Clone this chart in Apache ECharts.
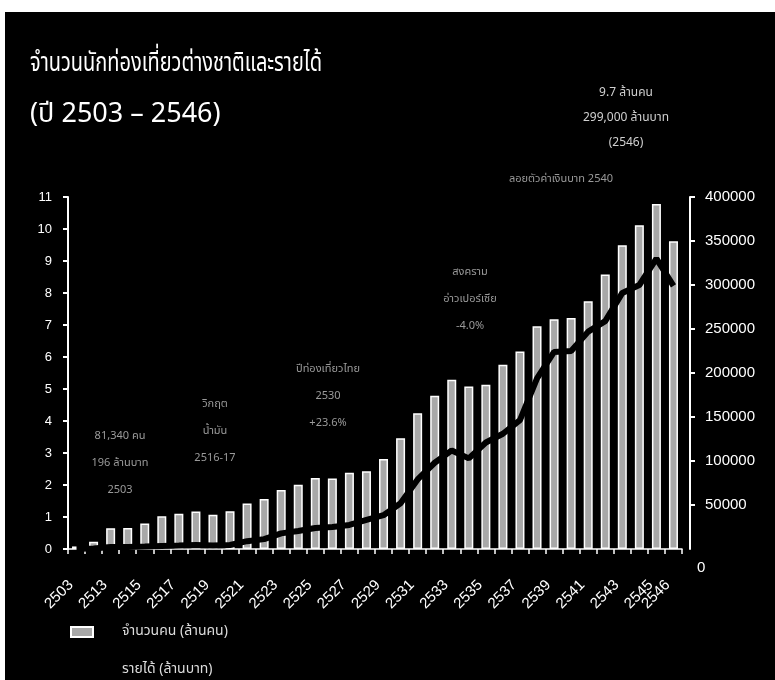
<!DOCTYPE html>
<html>
<head>
<meta charset="utf-8">
<script src="https://cdn.jsdelivr.net/npm/echarts@6/dist/echarts.min.js"></script>
<style>
html,body{margin:0;padding:0;background:#fff;width:775px;height:680px;overflow:hidden;}
#c{position:absolute;left:5px;top:12px;width:770px;height:668px;background:#000;}
</style>
</head>
<body>
<div id="c"></div>
<script>
// Categories (Buddhist Era years)
const years = ['2503','2508','2513','2514','2515','2516','2517','2518','2519','2520','2521','2522','2523','2524','2525','2526','2527','2528','2529','2530','2531','2532','2533','2534','2535','2536','2537','2538','2539','2540','2541','2542','2543','2544','2545','2546'];
// Tourists (million persons)
const tourists = [0.08,0.23,0.65,0.66,0.80,1.02,1.10,1.17,1.07,1.18,1.42,1.56,1.84,2.01,2.22,2.20,2.38,2.43,2.81,3.46,4.24,4.79,5.29,5.08,5.13,5.76,6.17,6.96,7.18,7.22,7.74,8.58,9.49,10.12,10.78,9.62];
// Revenue (million baht)
const revenue = [196,506,2175,2214,2718,3457,3852,4538,3990,4607,8894,11232,17765,20500,23879,25050,27317,33000,38400,52000,79000,98000,112000,103000,121000,131000,146500,194000,224000,225000,247000,259000,291000,300000,330000,299000];
// Axis ticks
const leftMax = 11, leftStep = 1;
const rightMax = 400000, rightStep = 50000;
// Texts
const titleText = 'จำนวนนักท่องเที่ยวต่างชาติและรายได้';
const subtitleText = '(ปี 2503 – 2546)';
const legendNames = ['จำนวนคน (ล้านคน)', 'รายได้ (ล้านบาท)'];
const notes = [
  {x:115, y:425, lines:['81,340 คน','196 ล้านบาท','2503']},
  {x:210, y:393, lines:['วิกฤต','น้ำมัน','2516-17']},
  {x:323, y:358, lines:['ปีท่องเที่ยวไทย','2530','+23.6%']},
  {x:465, y:261, lines:['สงคราม','อ่าวเปอร์เซีย','-4.0%']},
  {x:556, y:168, lines:['ลอยตัวค่าเงินบาท 2540']},
  {x:621, y:82, lines:['9.7 ล้านคน','299,000 ล้านบาท','(2546)'], big:true}
];

const thaiFont = '"Noto Sans Thai","Noto Sans Thai UI","Loma","Garuda","Norasi","Tlwg Typo","Noto Sans","DejaVu Sans",sans-serif';
const numFont = '"Liberation Sans Narrow","Liberation Sans",Arial,sans-serif';

const chart = echarts.init(document.getElementById('c'));
const graphics = [
  {type:'text', x:25, y:40, scaleX:0.74, style:{text:titleText, fill:'#fff', font:'27px '+thaiFont}},
  {type:'text', x:25, y:91, style:{text:subtitleText, fill:'#fff', font:'27px '+thaiFont}},
  {type:'text', left:692, top:548, style:{text:'0', fill:'#fff', font:'15px '+numFont}}
];
notes.forEach(n => {
  n.lines.forEach((t,i) => {
    graphics.push({type:'text', x:n.x, y:n.y + i*(n.big?25:27), style:{text:t, fill:n.big?'#d0d0d0':'#9a9a9a', font:(n.big?'12px ':'11px ')+thaiFont, textAlign:'center', textVerticalAlign:'middle'}});
  });
});

const xLabelStyle = {color:'#fff', fontSize:15, fontFamily:numFont, rotate:45, margin:28, padding:[0,8,0,0]};

chart.setOption({
  backgroundColor:'#000',
  animation:false,
  grid:{left:63, top:185, right:93, bottom:131},
  legend:{
    orient:'vertical', left:65, top:610, padding:0, itemWidth:22, itemHeight:10, itemGap:18,
    textStyle:{color:'#ddd', fontSize:14, lineHeight:20, fontFamily:thaiFont, padding:[0,0,0,24]},
    data:[{name:legendNames[0], icon:'rect'}, {name:legendNames[1]}]
  },
  xAxis:[{
    type:'category', data:years, boundaryGap:true,
    axisLine:{lineStyle:{color:'#fff', width:1.5}},
    axisTick:{show:true, interval:0, length:5, lineStyle:{color:'#fff', width:1.5}},
    axisLabel:Object.assign({}, xLabelStyle, {
      interval:function(i){return i%2===0 && i<years.length-1;}})
  },{
    type:'category', data:years, boundaryGap:true, position:'bottom',
    axisLine:{show:false}, axisTick:{show:false}, splitLine:{show:false},
    axisLabel:Object.assign({}, xLabelStyle, {
      interval:function(i){return i===years.length-1;}})
  }],
  yAxis:[
    {type:'value', min:0, max:leftMax, interval:leftStep,
     axisLine:{show:true, lineStyle:{color:'#fff', width:2}},
     axisTick:{show:true, length:5, lineStyle:{color:'#fff', width:2}},
     axisLabel:{color:'#fff', fontSize:13, fontFamily:numFont, margin:16},
     splitLine:{show:false}},
    {type:'value', min:0, max:rightMax, interval:rightStep, position:'right', offset:8,
     axisLine:{show:true, lineStyle:{color:'#fff', width:2}},
     axisTick:{show:true, length:5, lineStyle:{color:'#fff', width:2}},
     axisLabel:{color:'#fff', fontSize:15, fontFamily:numFont, margin:15, showMinLabel:false,
       formatter:function(v){return String(v);}},
     splitLine:{show:false}}
  ],
  series:[
    {name:legendNames[0], type:'bar', data:tourists, xAxisIndex:0, yAxisIndex:0, barWidth:9, z:2,
     itemStyle:{color:'#a8a8a8', borderColor:'#fff', borderWidth:1.5}},
    {name:legendNames[1], type:'line', data:revenue, xAxisIndex:0, yAxisIndex:1, symbol:'none', z:3,
     itemStyle:{color:'#000'}, lineStyle:{color:'#000', width:6}}
  ],
  graphic:graphics
});
</script>
</body>
</html>
